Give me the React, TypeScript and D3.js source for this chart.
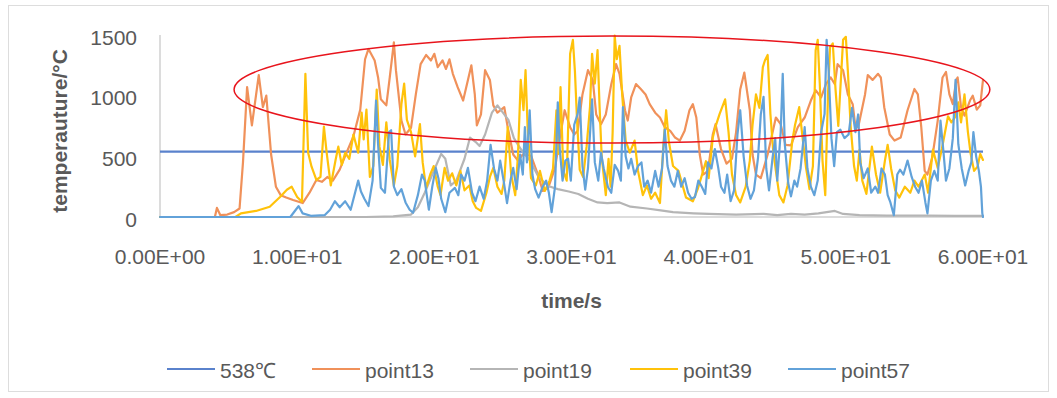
import React from 'react';
import * as d3 from 'd3';

const WIDTH = 1057;
const HEIGHT = 398;

const xTicks = [0, 10, 20, 30, 40, 50, 60];
const yTicks = [0, 500, 1000, 1500];
const thresholdValue = 538;
const seriesNames = ['538℃', 'point13', 'point19', 'point39', 'point57'];
const seriesColors = ['#5A82CC', '#F0915A', '#B5B5B5', '#FFC20A', '#62A2D9'];
const xTitle = 'time/s';
const yTitle = 'temperauture/°C';

// annotation ellipse (data units): centre time, centre temp, half-width (s), half-height (°C)
const highlight = { t: 32.95, v: 1050, dt: 27.55, dv: 441 };

// [time (s), temperature (°C)]
const point13: [number, number][] = [
  [0, 0], [4.0, 0], [4.15, 75], [4.4, 15], [4.9, 20], [5.4, 40], [5.8, 70], [6.05, 450], [6.35, 1070], [6.7, 755],
  [7.2, 1170], [7.5, 905], [7.75, 1000], [8.1, 515], [8.45, 250], [8.8, 180], [9.2, 160], [9.7, 140], [10.4, 115], [10.9, 200],
  [11.4, 305], [11.8, 290], [12.2, 330], [12.6, 300], [13.1, 390], [13.6, 530], [14.1, 665], [14.6, 885], [14.95, 1300], [15.2, 1385],
  [15.65, 1290], [15.9, 1150], [16.1, 970], [16.5, 920], [16.75, 1150], [17.05, 1440], [17.2, 1210], [17.6, 795], [17.9, 680], [18.3, 735],
  [18.65, 1010], [19.0, 1260], [19.4, 1335], [19.75, 1290], [20.0, 1345], [20.25, 1235], [20.6, 1290], [20.85, 1220], [21.1, 1300], [21.35, 1180],
  [21.7, 1070], [22.1, 960], [22.45, 1130], [22.7, 1250], [22.95, 1010], [23.1, 755], [23.4, 845], [23.7, 1210], [24.05, 1130], [24.3, 920],
  [24.6, 860], [25.1, 905], [25.35, 740], [25.75, 515], [26.1, 465], [26.45, 515], [27.05, 505], [27.55, 350], [27.9, 215], [28.3, 240],
  [28.8, 405], [29.15, 655], [29.5, 880], [29.9, 740], [30.2, 680], [30.45, 710], [30.8, 1010], [31.2, 1210], [31.55, 1130], [31.8, 845],
  [32.15, 765], [32.5, 845], [32.9, 1095], [33.25, 1260], [33.5, 1180], [33.9, 880], [34.1, 795], [34.35, 985], [34.7, 1095], [35.05, 1055],
  [35.4, 1010], [35.7, 930], [36.1, 860], [36.45, 820], [36.8, 740], [37.2, 710], [37.55, 655], [37.9, 630], [38.25, 710], [38.6, 880],
  [38.85, 930], [39.1, 820], [39.35, 515], [39.6, 350], [39.95, 380], [40.3, 680], [40.5, 765], [40.9, 560], [41.3, 440], [41.7, 480],
  [42.0, 700], [42.3, 1050], [42.6, 1190], [43.0, 880], [43.2, 515], [43.45, 350], [43.8, 320], [44.3, 515], [44.9, 820], [45.25, 765],
  [45.6, 595], [46.0, 590], [46.5, 740], [47.0, 820], [47.45, 960], [47.8, 1045], [48.2, 985], [48.55, 1095], [48.9, 1150], [49.2, 1095],
  [49.4, 1260], [49.8, 1210], [50.15, 1010], [50.5, 930], [50.7, 740], [50.9, 740], [51.4, 1010], [51.6, 1170], [51.95, 1130], [52.35, 1180],
  [52.55, 1150], [52.8, 905], [53.2, 680], [53.55, 630], [54.0, 655], [54.5, 880], [55.0, 1055], [55.25, 1010], [55.5, 740], [55.75, 380],
  [55.95, 350], [56.3, 490], [56.7, 795], [57.05, 1150], [57.3, 1195], [57.55, 1010], [57.8, 930], [58.05, 1130], [58.15, 1150], [58.4, 905],
  [58.65, 835], [59.05, 960], [59.25, 1000], [59.55, 885], [59.8, 920], [60, 1130],
];

const point19: [number, number][] = [
  [0, 0], [15, 0], [17, 5], [18.3, 20], [18.8, 80], [19.3, 200], [19.9, 365], [20.5, 520], [20.8, 480], [21.2, 260],
  [21.6, 300], [22.2, 480], [22.6, 655], [23.0, 620], [23.3, 585], [23.7, 680], [24.2, 860], [24.6, 920], [25.0, 860], [25.4, 800],
  [25.8, 650], [26.3, 560], [27.0, 460], [27.6, 330], [28.3, 255], [29.0, 230], [29.8, 210], [30.5, 190], [31.2, 150], [31.9, 120],
  [32.6, 115], [33.5, 120], [34.3, 85], [35.5, 70], [36.5, 55], [37.4, 40], [38.9, 30], [40, 25], [42, 20], [44, 25],
  [45, 15], [46, 25], [47, 20], [48, 30], [49.2, 50], [49.8, 25], [51, 15], [53, 12], [56, 12], [58, 10], [60, 10],
];

const point39: [number, number][] = [
  [0, 0], [5.5, 0], [5.9, 30], [7.0, 50], [8.0, 85], [8.75, 165], [9.25, 225], [9.6, 250], [10.0, 165], [10.35, 125],
  [10.6, 1180], [10.8, 530], [11.05, 415], [11.4, 305], [11.7, 330], [11.95, 745], [12.15, 530], [12.45, 260], [12.8, 470], [13.0, 580],
  [13.25, 430], [13.5, 530], [13.8, 480], [14.1, 680], [14.45, 530], [14.7, 860], [14.85, 640], [15.05, 885], [15.3, 330], [15.55, 420],
  [15.8, 1050], [16.0, 580], [16.25, 430], [16.5, 780], [16.75, 470], [17.05, 260], [17.3, 420], [17.6, 930], [17.8, 1100], [18.0, 800],
  [18.3, 700], [18.6, 500], [18.95, 765], [19.15, 450], [19.4, 240], [19.7, 350], [19.95, 420], [20.25, 250], [20.45, 180], [20.75, 405],
  [21.0, 300], [21.3, 360], [21.6, 260], [21.9, 380], [22.2, 220], [22.55, 260], [22.8, 130], [23.05, 75], [23.4, 50], [23.8, 200],
  [24.05, 330], [24.3, 405], [24.6, 250], [24.9, 190], [25.1, 300], [25.35, 740], [25.6, 350], [25.9, 180], [26.1, 515], [26.3, 1130],
  [26.5, 880], [26.65, 1210], [26.8, 740], [27.05, 320], [27.4, 260], [27.7, 380], [28.05, 215], [28.4, 300], [28.65, 400], [28.9, 880],
  [29.05, 520], [29.2, 1070], [29.4, 380], [29.65, 300], [29.9, 1345], [30.1, 1460], [30.25, 1200], [30.4, 805], [30.6, 390], [30.85, 330],
  [31.1, 580], [31.35, 910], [31.5, 1345], [31.7, 1100], [31.9, 1375], [32.05, 900], [32.2, 500], [32.5, 180], [32.7, 480], [32.85, 250],
  [33.0, 700], [33.15, 1495], [33.3, 1300], [33.5, 1410], [33.7, 1000], [33.95, 630], [34.25, 530], [34.6, 630], [34.85, 380], [35.2, 180],
  [35.5, 260], [35.8, 150], [36.1, 200], [36.45, 115], [36.7, 595], [36.9, 880], [37.1, 620], [37.4, 420], [37.8, 380], [38.0, 300],
  [38.35, 160], [38.85, 130], [39.2, 230], [39.6, 380], [39.8, 460], [40.0, 320], [40.3, 655], [40.5, 745], [40.8, 850], [41.2, 970],
  [41.45, 700], [41.7, 350], [42.0, 180], [42.3, 120], [42.7, 250], [43.0, 465], [43.2, 760], [43.45, 1010], [43.7, 900], [43.95, 1235],
  [44.1, 1290], [44.3, 1335], [44.5, 850], [44.7, 550], [44.9, 380], [45.15, 180], [45.45, 120], [45.75, 260], [46.1, 630], [46.3, 760],
  [46.6, 905], [46.85, 650], [47.1, 405], [47.35, 230], [47.6, 420], [47.8, 1375], [47.95, 1460], [48.1, 1100], [48.3, 465], [48.5, 180],
  [48.7, 1010], [48.85, 1400], [49.05, 1430], [49.25, 1050], [49.45, 750], [49.8, 1460], [50.0, 1485], [50.15, 1200], [50.35, 750], [50.6, 420],
  [50.8, 300], [51.0, 555], [51.2, 300], [51.5, 190], [51.9, 580], [52.2, 350], [52.5, 200], [52.85, 465], [53.05, 595], [53.3, 400],
  [53.6, 220], [53.9, 160], [54.3, 250], [54.7, 200], [55.0, 300], [55.3, 250], [55.75, 350], [56.0, 200], [56.35, 555], [56.7, 405],
  [57.0, 560], [57.2, 680], [57.45, 830], [57.7, 780], [58.0, 830], [58.2, 945], [58.4, 780], [58.65, 1010], [58.9, 700], [59.1, 520],
  [59.35, 380], [59.6, 415], [59.8, 520], [60, 470],
];

const point57: [number, number][] = [
  [0, 0], [9.5, 0], [9.9, 60], [10.1, 90], [10.4, 30], [11.0, 10], [12.0, 15], [12.4, 60], [12.75, 130], [13.1, 80],
  [13.5, 130], [13.9, 60], [14.45, 300], [14.65, 210], [14.9, 150], [15.2, 90], [15.5, 300], [15.75, 960], [15.9, 600], [16.1, 240],
  [16.4, 200], [16.7, 700], [16.85, 715], [17.05, 250], [17.3, 180], [17.6, 230], [17.9, 120], [18.2, 60], [18.45, 35], [18.8, 180],
  [19.1, 350], [19.3, 300], [19.6, 60], [19.85, 250], [20.1, 405], [20.3, 320], [20.5, 150], [20.8, 40], [21.1, 200], [21.5, 240],
  [21.75, 180], [21.95, 350], [22.2, 300], [22.45, 405], [22.75, 200], [23.0, 130], [23.3, 250], [23.6, 150], [23.85, 300], [24.1, 595],
  [24.35, 400], [24.6, 300], [24.8, 465], [25.05, 300], [25.3, 115], [25.55, 300], [25.75, 405], [26.0, 230], [26.25, 515], [26.45, 350],
  [26.6, 740], [26.75, 450], [26.95, 880], [27.15, 350], [27.35, 230], [27.6, 160], [27.9, 250], [28.15, 300], [28.35, 200], [28.55, 40],
  [28.8, 250], [29.0, 945], [29.15, 550], [29.35, 300], [29.55, 465], [29.75, 480], [29.95, 300], [30.2, 760], [30.45, 850], [30.6, 985],
  [30.8, 420], [31.0, 225], [31.2, 400], [31.5, 970], [31.7, 450], [31.95, 300], [32.15, 530], [32.35, 400], [32.65, 250], [32.9, 200],
  [33.15, 430], [33.4, 380], [33.6, 300], [33.75, 905], [33.95, 500], [34.15, 400], [34.35, 480], [34.6, 350], [34.85, 420], [35.1, 450],
  [35.3, 250], [35.55, 300], [35.8, 200], [36.1, 380], [36.35, 250], [36.6, 400], [36.8, 720], [37.0, 420], [37.25, 300], [37.5, 250],
  [37.75, 380], [38.0, 250], [38.25, 320], [38.5, 200], [38.75, 150], [39.0, 165], [39.25, 300], [39.5, 250], [39.75, 190], [39.95, 450],
  [40.2, 400], [40.45, 560], [40.7, 405], [40.9, 250], [41.15, 200], [41.35, 350], [41.6, 130], [41.85, 220], [42.1, 680], [42.3, 880],
  [42.55, 500], [42.8, 260], [43.05, 150], [43.3, 220], [43.6, 490], [43.8, 845], [44.0, 990], [44.2, 400], [44.4, 220], [44.65, 480],
  [44.85, 650], [45.0, 300], [45.25, 700], [45.4, 1180], [45.55, 600], [45.8, 280], [46.0, 170], [46.25, 300], [46.45, 250], [46.7, 400],
  [47.0, 740], [47.2, 400], [47.45, 250], [47.7, 180], [47.95, 300], [48.2, 700], [48.45, 850], [48.6, 1460], [48.75, 1200], [48.95, 650],
  [49.15, 420], [49.35, 700], [49.6, 720], [49.9, 650], [50.2, 680], [50.45, 900], [50.7, 700], [50.9, 845], [51.05, 450], [51.3, 320],
  [51.6, 400], [51.85, 200], [52.15, 250], [52.35, 200], [52.6, 400], [52.85, 350], [53.05, 180], [53.25, 120], [53.5, 15], [53.75, 350],
  [53.95, 390], [54.2, 350], [54.5, 465], [54.8, 330], [55.05, 250], [55.3, 200], [55.55, 300], [55.8, 120], [55.95, 30], [56.2, 300],
  [56.45, 380], [56.7, 300], [56.9, 795], [57.1, 560], [57.3, 300], [57.55, 400], [57.8, 650], [58.0, 1130], [58.2, 600], [58.45, 400],
  [58.7, 260], [58.95, 380], [59.15, 450], [59.3, 700], [59.5, 500], [59.7, 380], [59.85, 250], [59.95, 30], [60, 0],
];

const FONT = '"Liberation Sans", Arial, Helvetica, sans-serif';
const TEXT = '#595959';

function sci(v: number): string {
  if (v === 0) return '0.00E+00';
  const e = Math.floor(Math.log10(Math.abs(v)));
  const m = v / Math.pow(10, e);
  const sign = e < 0 ? '-' : '+';
  return `${m.toFixed(2)}E${sign}${String(Math.abs(e)).padStart(2, '0')}`;
}

export default function App() {
  const x = d3.scaleLinear().domain([0, 60]).range([160, 983]);
  const y = d3.scaleLinear().domain([0, 1500]).range([217, 35]);
  const line = d3
    .line<[number, number]>()
    .x((d) => x(d[0]))
    .y((d) => y(d[1]));

  const dataSeries = [point13, point19, point39, point57];
  const thresholdLine: [number, number][] = [
    [0, thresholdValue],
    [60, thresholdValue],
  ];

  const legendX = [167, 312, 470, 630, 788];

  const ecx = x(highlight.t);
  const ecy = y(highlight.v);
  const erx = x(highlight.t + highlight.dt) - ecx;
  const ery = ecy - y(highlight.v + highlight.dv);

  return (
    <div style={{ position: 'absolute', left: 0, top: 0 }}>
      <svg width={WIDTH} height={HEIGHT} style={{ display: 'block', background: '#fff' }} fontFamily={FONT}>
        <rect x={8.5} y={5.5} width={1040} height={386} fill="#fff" stroke="#DDDDDD" strokeWidth={1} />
        {/* axes */}
        <line x1={x(0)} x2={x(0)} y1={y(1500)} y2={y(0)} stroke="#D0D0D0" strokeWidth={1.5} />
        <line x1={x(0)} x2={x(60)} y1={y(0)} y2={y(0)} stroke="#D0D0D0" strokeWidth={1.5} />
        {yTicks.map((t) => (
          <text key={t} x={137} y={y(t) + 2} textAnchor="end" dominantBaseline="central" fontSize={21} fill={TEXT}>
            {t}
          </text>
        ))}
        {xTicks.map((t) => (
          <text key={t} x={x(t)} y={256} textAnchor="middle" dominantBaseline="central" fontSize={21} fill={TEXT}>
            {sci(t)}
          </text>
        ))}
        <text
          transform={`translate(59, ${(y(0) + y(1500)) / 2 + 5}) rotate(-90)`}
          textAnchor="middle"
          dominantBaseline="central"
          fontSize={21}
          fontWeight="bold"
          fill={TEXT}
        >
          {yTitle}
        </text>
        <text x={(x(0) + x(60)) / 2} y={300} textAnchor="middle" dominantBaseline="central" fontSize={21} fontWeight="bold" fill={TEXT}>
          {xTitle}
        </text>
        {/* series */}
        <path d={line(thresholdLine) || ''} fill="none" stroke={seriesColors[0]} strokeWidth={2.2} />
        {dataSeries.map((s, i) => (
          <path
            key={i}
            d={line(s) || ''}
            fill="none"
            stroke={seriesColors[i + 1]}
            strokeWidth={2.2}
            strokeLinejoin="round"
            strokeLinecap="round"
          />
        ))}
        {/* annotation */}
        <ellipse cx={ecx} cy={ecy} rx={erx} ry={ery} fill="none" stroke="#E8141C" strokeWidth={1.5} />
        {/* legend */}
        {seriesNames.map((n, i) => (
          <g key={n} transform={`translate(${legendX[i]}, 369)`}>
            <line x1={0} x2={48} y1={0} y2={0} stroke={seriesColors[i]} strokeWidth={2.2} />
            <text x={53} y={1} dominantBaseline="central" fontSize={21} fill={TEXT}>
              {n}
            </text>
          </g>
        ))}
      </svg>
    </div>
  );
}
